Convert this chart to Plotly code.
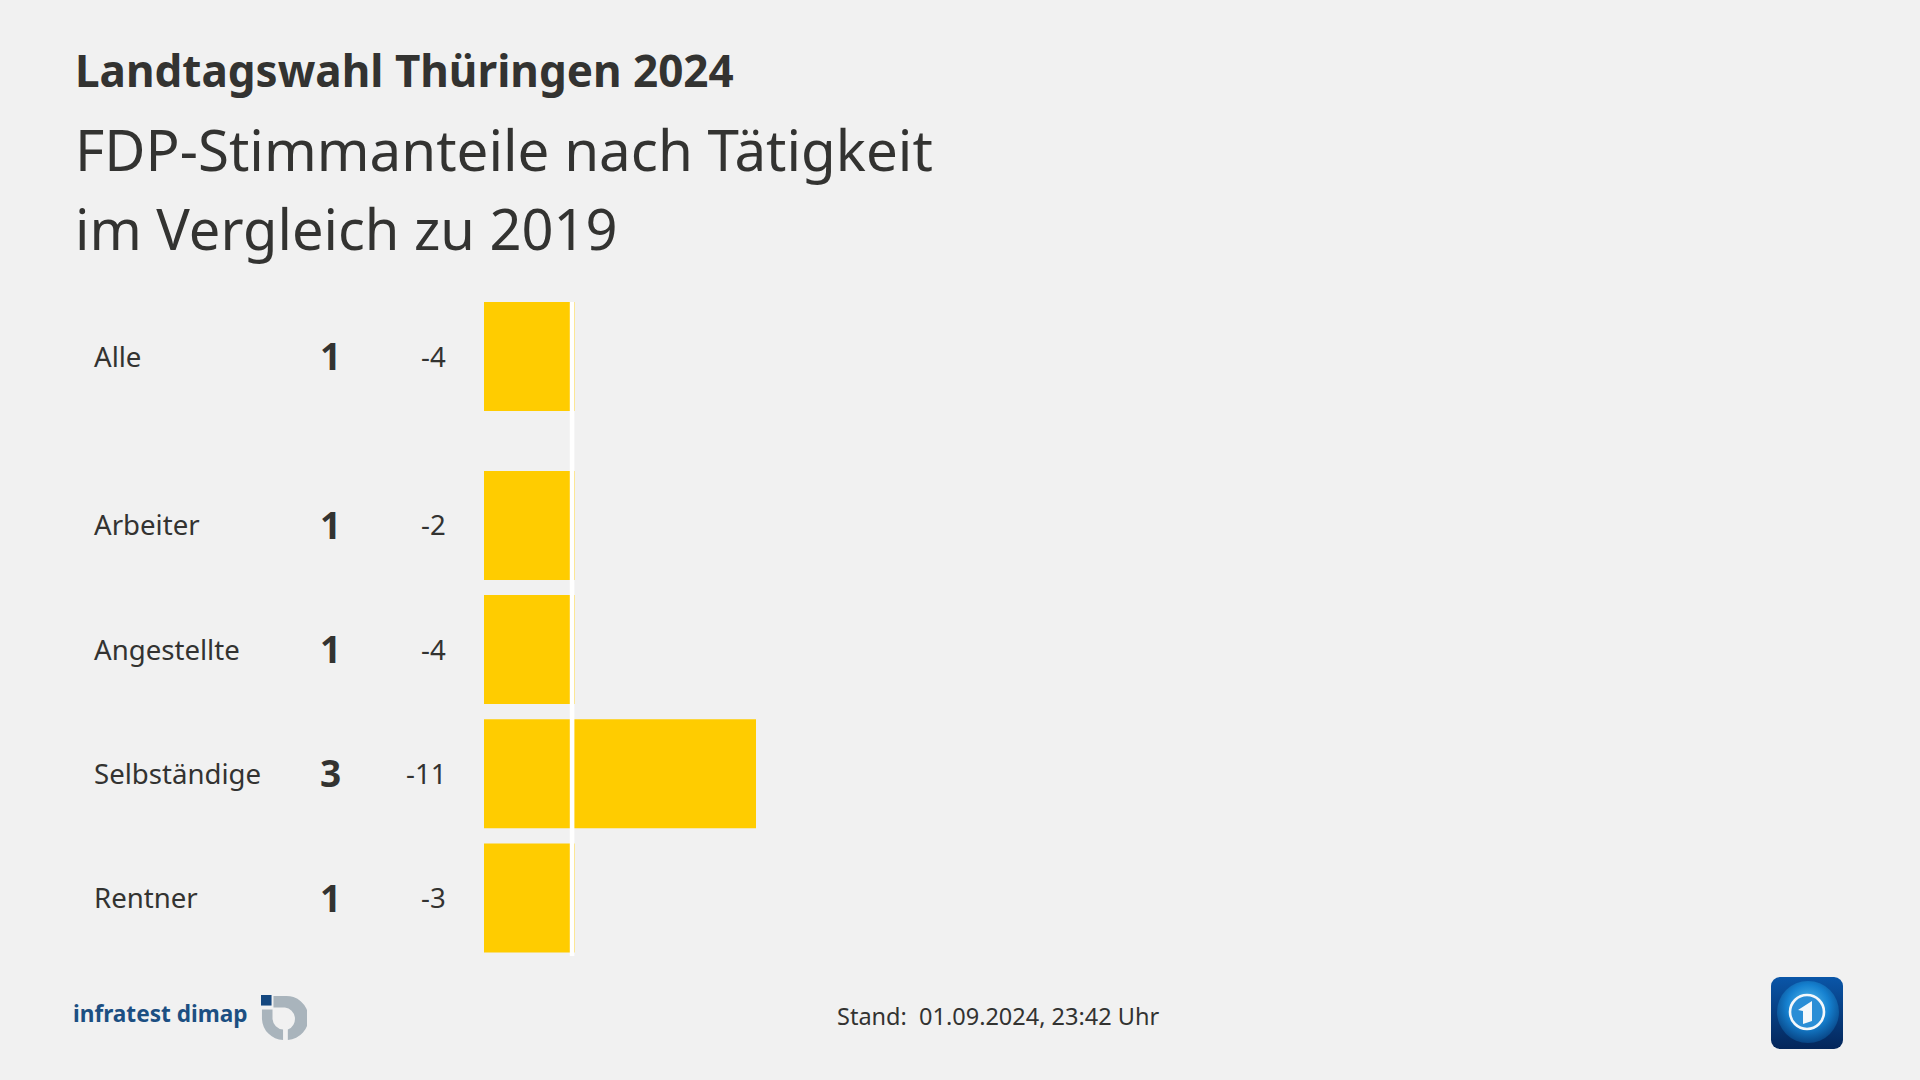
import base64
import plotly.graph_objects as go

groups = ["Alle", "Arbeiter", "Angestellte", "Selbständige", "Rentner"]
shares = [1, 1, 1, 3, 1]
changes = ["-4", "-2", "-4", "-11", "-3"]

W, H = 1920, 1080
BG = "#f1f1f1"
INK = "#333331"
YEL = "#ffcc00"
FONT = "Noto Sans"

# scales: pixels per unit and origin of the bar axis
px_per_unit = 272 / 3
x_origin = 484
row_pitch = 124.2
first_row_px = 356.5
extra_gap = 0.36  # separation after the "Alle" row
rows = [0 if i == 0 else i + extra_gap for i in range(len(groups))]
y_top = -first_row_px / row_pitch
y_bot = (H - first_row_px) / row_pitch
text_nudge = -1 / row_pitch


def xp(px):
    return px / W


def yp(px):
    return 1 - px / H


fig = go.Figure(
    go.Bar(
        x=shares,
        y=rows,
        orientation="h",
        width=109 / row_pitch,
        marker=dict(color=YEL, line=dict(width=0)),
        hoverinfo="skip",
    )
)

fig.add_shape(
    type="line", xref="x", yref="y",
    x0=(572.1 - x_origin) / px_per_unit, x1=(572.1 - x_origin) / px_per_unit,
    y0=(302 - first_row_px) / row_pitch, y1=(956 - first_row_px) / row_pitch,
    line=dict(color="#ffffff", width=4.6), layer="above",
)


def text(s, x, y, size, anchor="left", color=INK, bold=False, xref="paper", yref="paper", font=FONT):
    fig.add_annotation(
        text=f"<b>{s}</b>" if bold else s, x=x, y=y, xref=xref, yref=yref,
        xanchor=anchor, yanchor="middle", showarrow=False,
        font=dict(size=size, color=color, family=font), align=anchor,
        borderpad=0, borderwidth=0,
    )


text("Landtagswahl Thüringen 2024", xp(75), yp(70), 44, bold=True)
text("FDP-Stimmanteile nach Tätigkeit", xp(75), yp(149), 56.5)
text("im Vergleich zu 2019", xp(75), yp(228), 56)

for g, s, c, r in zip(groups, shares, changes, rows):
    text(g, xp(94), r + text_nudge, 27.6, yref="y")
    text(str(s), xp(330), r + text_nudge, 37, anchor="center", bold=True, yref="y")
    text(c, xp(446), r + text_nudge, 27.6, anchor="right", yref="y")

text("Stand:&nbsp;&nbsp;01.09.2024, 23:42 Uhr", xp(836.5), yp(1016), 23.5)
text("infratest dimap", xp(73), yp(1013), 22.6, color="#1c4f82", bold=True)

# infratest dimap mark
ring = """<svg xmlns='http://www.w3.org/2000/svg' width='48' height='48' viewBox='0 0 48 48'>
<path d='M13 1 H25 A23 23 0 0 1 28 47 V36 A12 12 0 0 0 25 13 H13 Z' fill='#a9b4bc'/>
<path d='M1 15 H12 V25 A12 12 0 0 0 23 36 V47 A23 23 0 0 1 1 25 Z' fill='#a9b4bc'/>
<rect x='0' y='0' width='11' height='11' fill='#14477f'/></svg>"""

# news programme icon
icon = """<svg xmlns='http://www.w3.org/2000/svg' width='72' height='72' viewBox='0 0 72 72'>
<defs>
<linearGradient id='b' x1='0' y1='0' x2='0' y2='1'><stop offset='0' stop-color='#0a56a8'/><stop offset='1' stop-color='#04265a'/></linearGradient>
<radialGradient id='g' cx='0.5' cy='0.4' r='0.62'><stop offset='0' stop-color='#5cc4f2'/><stop offset='0.55' stop-color='#1580cf'/><stop offset='1' stop-color='#07407f'/></radialGradient>
</defs>
<rect width='72' height='72' rx='9' fill='url(#b)'/>
<circle cx='37' cy='35' r='31' fill='url(#g)'/>
<circle cx='36' cy='35' r='17' fill='#2a8ed6' stroke='#f4f8fb' stroke-width='2.6'/>
<path d='M27 33 L41 24 V44 L32 47 V34 Z' fill='#f4f8fb'/></svg>"""


def uri(svg):
    return "data:image/svg+xml;base64," + base64.b64encode(svg.encode()).decode()


fig.add_layout_image(source=uri(ring), xref="paper", yref="paper", x=xp(261), y=yp(995),
                     sizex=46 / W, sizey=46 / H, xanchor="left", yanchor="top", sizing="stretch", layer="above")
fig.add_layout_image(source=uri(icon), xref="paper", yref="paper", x=xp(1771), y=yp(977),
                     sizex=72 / W, sizey=72 / H, xanchor="left", yanchor="top", sizing="stretch", layer="above")

fig.update_layout(
    width=W, height=H, autosize=False, showlegend=False,
    margin=dict(l=0, r=0, t=0, b=0, pad=0),
    paper_bgcolor=BG, plot_bgcolor=BG,
    xaxis=dict(range=[-x_origin / px_per_unit, (W - x_origin) / px_per_unit], visible=False, fixedrange=True),
    yaxis=dict(range=[y_bot, y_top], visible=False, fixedrange=True),
)

fig.write_html("out.html", config={"displayModeBar": False},
               post_script="document.body.style.margin='0';document.documentElement.style.background='#f1f1f1';")
